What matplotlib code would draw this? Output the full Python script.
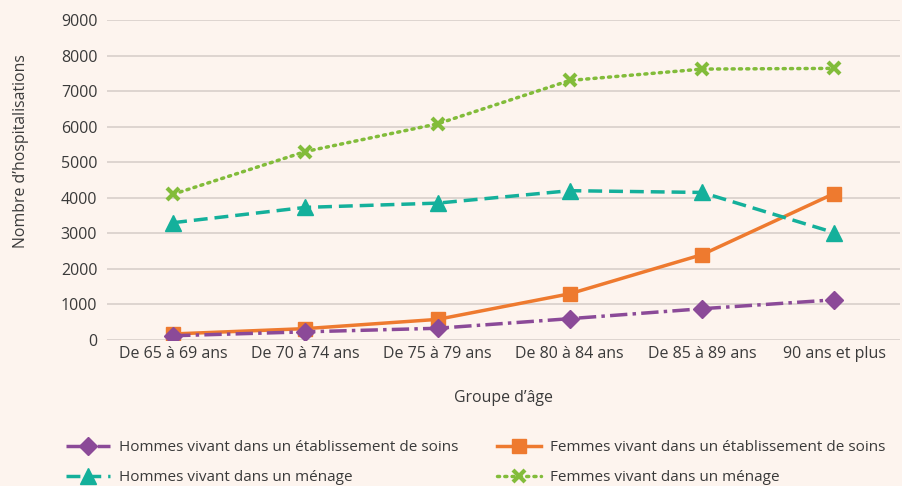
import matplotlib.pyplot as plt

plt.rcParams['font.family'] = ['Open Sans', 'DejaVu Sans']

groupes = ["De 65 à 69 ans", "De 70 à 74 ans", "De 75 à 79 ans",
           "De 80 à 84 ans", "De 85 à 89 ans", "90 ans et plus"]
hommes_soins = [120, 230, 330, 600, 880, 1130]
femmes_soins = [170, 320, 580, 1300, 2400, 4120]
hommes_menage = [3300, 3730, 3850, 4200, 4150, 3020]
femmes_menage = [4100, 5300, 6080, 7300, 7620, 7640]
yticks = list(range(0, 9001, 1000))

bg = '#fdf4ee'
txt = '#3a3a3a'
c_purple = '#8b4a98'
c_orange = '#ee7a2f'
c_teal = '#14b09b'
c_green = '#82bc3a'

fig = plt.figure(figsize=(9.03, 4.86), dpi=100, facecolor=bg)
ax = fig.add_axes([0.1185, 0.3004, 0.8785, 0.6584], facecolor=bg)

x = range(len(groupes))
l1, = ax.plot(x, hommes_soins, color=c_purple, lw=2.5, ls=(0, (5, 1.5, 1, 1.5)),
              marker='D', ms=9, zorder=4)
l2, = ax.plot(x, femmes_soins, color=c_orange, lw=2.5, ls='-',
              marker='s', ms=10, zorder=3)
l3, = ax.plot(x, hommes_menage, color=c_teal, lw=2.5, ls=(0, (4, 2)),
              marker='^', ms=11, zorder=3)
l4, = ax.plot(x, femmes_menage, color=c_green, lw=2.5, ls=(0, (0.6, 1.5)),
              dash_capstyle='round', marker='x', ms=9, mew=3, zorder=3)

ax.set_xlim(-0.5, 5.5)
ax.set_ylim(0, 9000)
ax.set_yticks(yticks)
ax.set_xticks(list(x))
ax.set_xticklabels(groupes)
ax.grid(axis='y', color='#d8cfca', lw=1.2)
ax.set_axisbelow(True)
for s in ax.spines.values():
    s.set_visible(False)
ax.tick_params(length=0, labelsize=11.5, colors=txt, pad=4)
ax.tick_params(axis='y', pad=7)

ax.set_ylabel("Nombre d\u2019hospitalisations", fontsize=11.4, color=txt)
ax.yaxis.set_label_coords(-0.098, 0.59)
ax.set_xlabel("Groupe d\u2019âge", fontsize=11.4, color=txt)
ax.xaxis.set_label_coords(0.5, -0.155)

fig.legend([l1, l3, l2, l4],
           ["Hommes vivant dans un établissement de soins",
            "Hommes vivant dans un ménage",
            "Femmes vivant dans un établissement de soins",
            "Femmes vivant dans un ménage"],
           ncol=2, loc='upper left', bbox_to_anchor=(0.066, 0.107),
           frameon=False, fontsize=11, labelcolor=txt, handlelength=2.9,
           handletextpad=0.6, columnspacing=2.5, labelspacing=1.0,
           borderaxespad=0)

fig.savefig('out.png', dpi=100, facecolor=bg)
